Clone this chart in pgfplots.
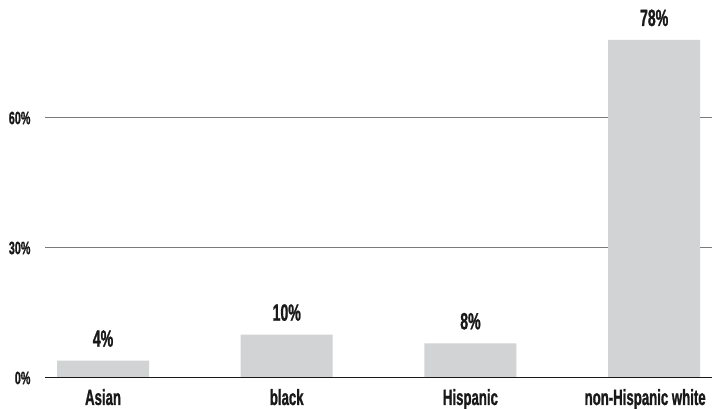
\documentclass[border=0pt]{standalone}
\usepackage{fontspec}
\newfontfamily\cond{Liberation Sans}[FakeStretch=0.6, FakeBold=1, UprightFont={* Bold}]
\usepackage{pgfplots}
\pgfplotsset{compat=1.18}
\definecolor{barfill}{HTML}{D1D3D4}
\definecolor{gridgray}{HTML}{7A7A7A}
\begin{document}
\begin{tikzpicture}
\begin{axis}[
  /pgf/number format/assume math mode=true,
  scale only axis,
  width=667pt, height=378pt,
  xmin=-0.316, xmax=3.315,
  ymin=0, ymax=87.23,
  axis line style={draw=none},
  xtick={0,1,2,3},
  xticklabels={Asian,black,Hispanic,\hspace*{-18pt}non-Hispanic white},
  xtick style={draw=none},
  xticklabel style={font=\cond\fontsize{22}{22}\selectfont, anchor=base, yshift=-27pt, text=black!90},
  ytick={0,30,60},
  yticklabels={0\%,30\%,60\%},
  ytick style={draw=none},
  yticklabel style={font=\cond\fontsize{18}{18}\selectfont, anchor=east, xshift=-11pt, text=black!90},
  ymajorgrids,
  grid style={gridgray, line width=1pt},
  clip=false,
]
\addplot[ybar, bar width=92pt, fill=barfill, draw=none,
  nodes near coords={\pgfmathprintnumber{\pgfplotspointmeta}\%},
  every node near coord/.append style={anchor=base, yshift=14pt, font=\cond\fontsize{23.5}{23.5}\selectfont, text=black!90},
] coordinates {(0,4) (1,10) (2,8) (3,78)};
\draw[black!90, line width=1pt] (rel axis cs:0,0) -- (rel axis cs:1,0);
\end{axis}
\pgfresetboundingbox
\path (-45pt,-31pt) rectangle (667pt,378pt);
\end{tikzpicture}
\end{document}
